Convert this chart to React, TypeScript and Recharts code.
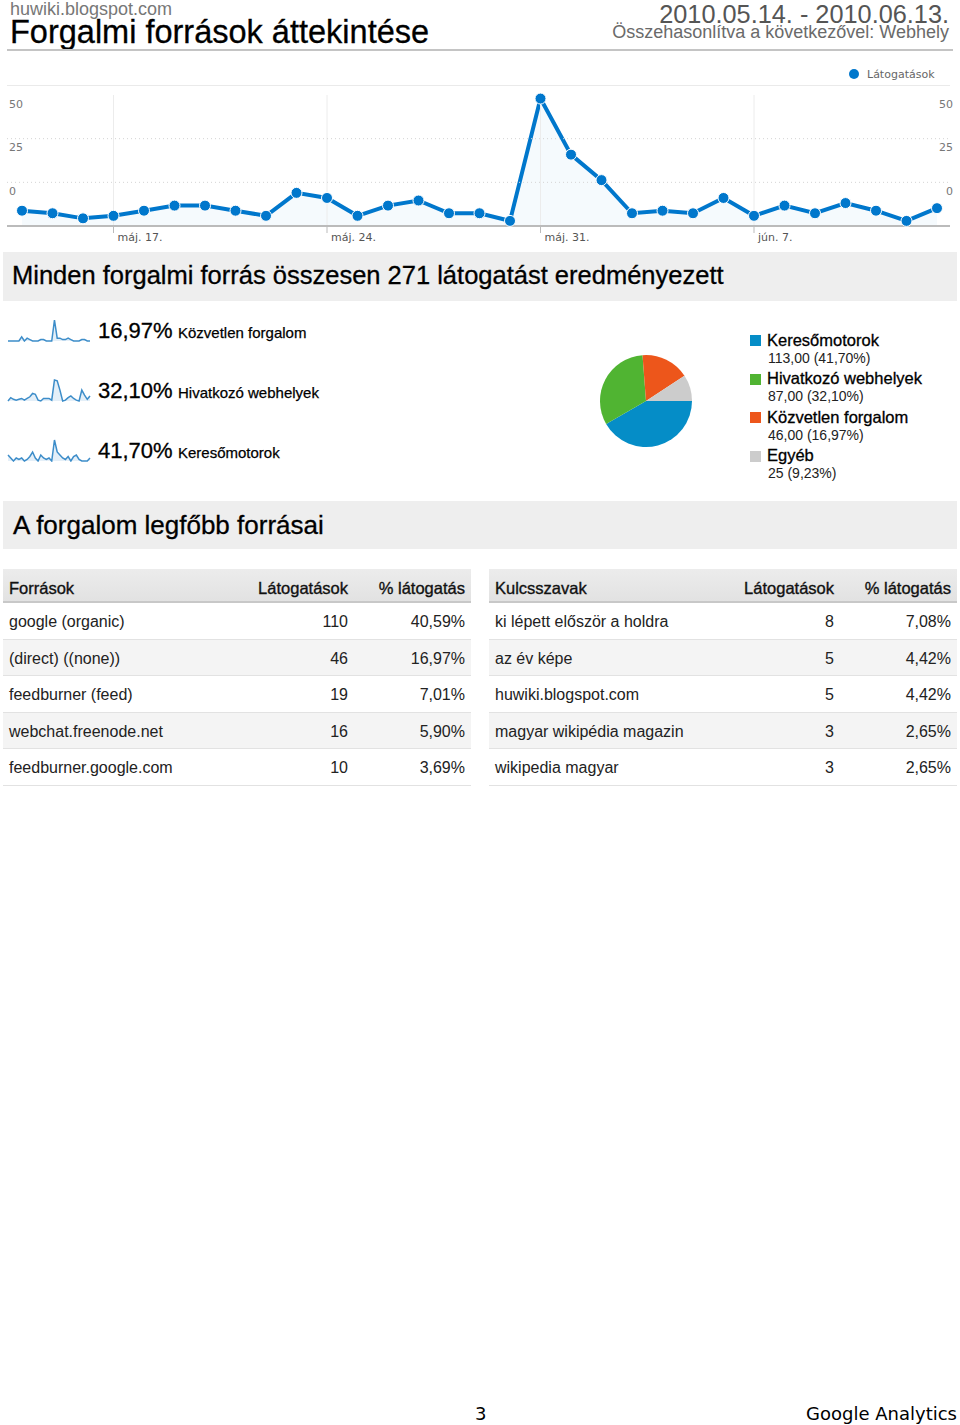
import { Area, AreaChart, Cell, Pie, PieChart, ReferenceLine, XAxis, YAxis } from "recharts";

const days = [
  "máj. 14.", "máj. 15.", "máj. 16.", "máj. 17.", "máj. 18.", "máj. 19.", "máj. 20.",
  "máj. 21.", "máj. 22.", "máj. 23.", "máj. 24.", "máj. 25.", "máj. 26.", "máj. 27.",
  "máj. 28.", "máj. 29.", "máj. 30.", "máj. 31.", "jún. 1.", "jún. 2.", "jún. 3.",
  "jún. 4.", "jún. 5.", "jún. 6.", "jún. 7.", "jún. 8.", "jún. 9.", "jún. 10.",
  "jún. 11.", "jún. 12.", "jún. 13.",
];
const visits = [6, 5, 3, 4, 6, 8, 8, 6, 4, 13, 11, 4, 8, 10, 5, 5, 2, 50, 28, 18, 5, 6, 5, 11, 4, 8, 5, 9, 6, 2, 7];
const dayTicks = ["máj. 17.", "máj. 24.", "máj. 31.", "jún. 7."];
// gridline positions of the axis and the labels printed under them
const yTicks = [17.13, 34.27, 51.4];
const yTickLabels = ["0", "25", "50"];

const directDaily = [1, 1, 1, 1, 1, 4, 1, 3, 2, 1, 1, 1, 2, 2, 1, 1, 1, 16, 3, 3, 2, 2, 3, 2, 1, 1, 1, 2, 2, 1, 1];
const referralDaily = [0, 4, 2, 1, 2, 3, 1, 3, 5, 9, 8, 1, 0, 3, 3, 3, 1, 25, 24, 13, 0, 1, 4, 6, 3, 1, 0, 13, 7, 2, 6];
const searchDaily = [5, 3, 1, 3, 2, 3, 1, 2, 4, 7, 3, 1, 5, 3, 2, 3, 1, 15, 7, 5, 3, 2, 4, 1, 4, 5, 2, 1, 1, 1, 3];
const sparkShares = ["16,97%", "32,10%", "41,70%"];
const sparkNames = ["Közvetlen forgalom", "Hivatkozó webhelyek", "Keresőmotorok"];

const sourceNames = ["Keresőmotorok", "Hivatkozó webhelyek", "Közvetlen forgalom", "Egyéb"];
const sourceVisits = [113, 87, 46, 25];
const sourceValueLabels = ["113,00 (41,70%)", "87,00 (32,10%)", "46,00 (16,97%)", "25 (9,23%)"];
const sourceColors = ["#058dc7", "#50b432", "#ed561b", "#cccccc"];

const topSources = ["google (organic)", "(direct) ((none))", "feedburner (feed)", "webchat.freenode.net", "feedburner.google.com"];
const topSourceVisits = [110, 46, 19, 16, 10];
const topSourcePct = ["40,59%", "16,97%", "7,01%", "5,90%", "3,69%"];
const keywords = ["ki lépett először a holdra", "az év képe", "huwiki.blogspot.com", "magyar wikipédia magazin", "wikipedia magyar"];
const keywordVisits = [8, 5, 5, 3, 3];
const keywordPct = ["7,08%", "4,42%", "4,42%", "2,65%", "2,65%"];

const HELV = "'Liberation Sans', Arial, sans-serif";
const DEJAVU = "'DejaVu Sans', sans-serif";
const BLUE = "#0077cc";

const lineData = days.map((day, i) => ({ day, visits: visits[i] }));
const pieData = sourceNames.map((name, i) => ({ name, value: sourceVisits[i] }));

// text box whose baseline lands on `baseline`
function Txt({ x, right, baseline, size, color = "#000", font = HELV, heavy, children }: any) {
  const lh = size * 0.8;
  const style: any = {
    position: "absolute",
    top: baseline - size * 0.75,
    fontSize: size,
    lineHeight: `${lh}px`,
    fontFamily: font,
    color,
    whiteSpace: "nowrap",
  };
  if (heavy) style.WebkitTextStroke = `${heavy}px ${color}`;
  if (right !== undefined) style.right = right;
  else style.left = x;
  return <div style={style}>{children}</div>;
}

function DayTick({ x, y, payload }: any) {
  return (
    <text x={x + 4} y={y} dy="0.75em" fontSize={11} fontFamily={DEJAVU} fill="#555" textAnchor="start">
      {payload.value}
    </text>
  );
}

// the same label is printed at both edges of the plot
function ValueTick({ y, index }: any) {
  return (
    <g fontSize={11} fontFamily={DEJAVU} fill="#777">
      <text x={9} y={y + 12.5} textAnchor="start">
        {yTickLabels[index]}
      </text>
      <text x={953} y={y + 12.5} textAnchor="end">
        {yTickLabels[index]}
      </text>
    </g>
  );
}

function Spark({ values, top }: { values: number[]; top: number }) {
  const data = values.map((v, i) => ({ i, v }));
  return (
    <div style={{ position: "absolute", left: 7, top }}>
      <AreaChart width={84} height={24} data={data} margin={{ top: 2, right: 1, bottom: 1, left: 1 }}>
        <XAxis dataKey="i" hide />
        <YAxis hide domain={["dataMin", "dataMax"]} />
        <Area
          type="linear"
          dataKey="v"
          stroke="#3d8dc9"
          strokeWidth={1.5}
          fill="#d8e8f5"
          fillOpacity={0.7}
          dot={false}
          isAnimationActive={false}
        />
      </AreaChart>
    </div>
  );
}

function Table({ left, headers, names, counts, pcts }: any) {
  const rowH = 36.6;
  return (
    <div style={{ position: "absolute", left, top: 569, width: 468, height: 216 }}>
      <div
        style={{
          position: "absolute",
          left: 0,
          top: 0,
          width: 468,
          height: 32,
          background: "linear-gradient(#ececec, #e2e2e2)",
          borderBottom: "2px solid #c8c8c8",
        }}
      />
      <Txt x={6} baseline={25} size={16.5} color="#111" heavy={0.35}>{headers[0]}</Txt>
      <Txt right={123} baseline={25} size={16.5} color="#111" heavy={0.35}>{headers[1]}</Txt>
      <Txt right={6} baseline={25} size={16.5} color="#111" heavy={0.35}>{headers[2]}</Txt>
      {names.map((n: string, i: number) => (
        <div key={n}>
          <div
            style={{
              position: "absolute",
              left: 0,
              top: 34 + i * rowH,
              width: 468,
              height: rowH - 1,
              background: i % 2 ? "#f4f4f4" : "#fff",
              borderBottom: "1px solid #e2e2e2",
            }}
          />
          <Txt x={6} baseline={59 + i * rowH} size={16} color="#222">{n}</Txt>
          <Txt right={123} baseline={59 + i * rowH} size={16} color="#222">{counts[i]}</Txt>
          <Txt right={6} baseline={59 + i * rowH} size={16} color="#222">{pcts[i]}</Txt>
        </div>
      ))}
    </div>
  );
}

export default function App() {
  return (
    <div style={{ position: "absolute", left: 0, top: 0, width: 960, height: 1425, background: "#fff", fontFamily: HELV }}>
      <Txt x={10} baseline={15} size={18} color="#777">huwiki.blogspot.com</Txt>
      <Txt x={10} baseline={43} size={32.5} heavy={0.3}>Forgalmi források áttekintése</Txt>
      <Txt right={11} baseline={23} size={25.3} color="#555">2010.05.14. - 2010.06.13.</Txt>
      <Txt right={11} baseline={38} size={18} color="#6a6a6a">Összehasonlítva a következővel: Webhely</Txt>
      <div style={{ position: "absolute", left: 7, top: 49, width: 946, height: 2, background: "#c4c4c4" }} />

      {/* legend + top border of the visits chart */}
      <div style={{ position: "absolute", left: 849, top: 69, width: 10, height: 10, borderRadius: 5, background: BLUE }} />
      <Txt x={867} baseline={79} size={11} color="#666" font={DEJAVU}>Látogatások</Txt>
      <div style={{ position: "absolute", left: 7, top: 85, width: 943, height: 1, background: "#eaeaea" }} />

      <div style={{ position: "absolute", left: 0, top: 60 }}>
        <AreaChart width={960} height={190} data={lineData} margin={{ top: 35, right: 10, bottom: 0, left: 7 }}>
          <XAxis
            dataKey="day"
            height={24}
            padding={{ left: 15, right: 13 }}
            ticks={dayTicks}
            interval={0}
            tick={<DayTick />}
            tickSize={7}
            tickMargin={0}
            tickLine={{ stroke: "#bbb" }}
            axisLine={{ stroke: "#bbb", strokeWidth: 2 }}
          />
          <YAxis
            yAxisId="l"
            mirror
            domain={[0, 51.4]}
            ticks={yTicks}
            axisLine={false}
            tickLine={false}
            tick={<ValueTick />}
          />
          {dayTicks.map((d) => (
            <ReferenceLine key={d} yAxisId="l" x={d} stroke="#ececec" />
          ))}
          {yTicks.slice(0, 2).map((v) => (
            <ReferenceLine key={v} yAxisId="l" y={v} stroke="#d4d4d4" strokeDasharray="1 3" />
          ))}
          <Area
            yAxisId="l"
            type="linear"
            dataKey="visits"
            stroke={BLUE}
            strokeWidth={4}
            fill={BLUE}
            fillOpacity={0.04}
            dot={{ r: 5.5, fill: BLUE, stroke: "#fff", strokeWidth: 1, fillOpacity: 1 }}
            isAnimationActive={false}
          />
        </AreaChart>
      </div>

      <div style={{ position: "absolute", left: 3, top: 252, width: 954, height: 49, background: "#eeeeee" }} />
      <Txt x={12} baseline={284} size={25.5} heavy={0.3}>Minden forgalmi forrás összesen 271 látogatást eredményezett</Txt>

      <Spark values={directDaily} top={318} />
      <Spark values={referralDaily} top={378} />
      <Spark values={searchDaily} top={438} />
      {sparkShares.map((s, i) => (
        <div key={s}>
          <Txt x={98} baseline={338 + i * 60} size={22} heavy={0.3}>{s}</Txt>
          <Txt x={178} baseline={338 + i * 60} size={15} heavy={0.25}>{sparkNames[i]}</Txt>
        </div>
      ))}

      <div style={{ position: "absolute", left: 596, top: 351 }}>
        <PieChart width={100} height={100} margin={{ top: 0, right: 0, bottom: 0, left: 0 }}>
          <Pie
            data={pieData}
            dataKey="value"
            cx={50}
            cy={50}
            outerRadius={46}
            startAngle={0}
            endAngle={-360}
            stroke="none"
            isAnimationActive={false}
          >
            {pieData.map((d, i) => (
              <Cell key={d.name} fill={sourceColors[i]} />
            ))}
          </Pie>
        </PieChart>
      </div>
      {sourceNames.map((n, i) => (
        <div key={n}>
          <div style={{ position: "absolute", left: 750, top: 335 + i * 38.5, width: 11, height: 11, background: sourceColors[i] }} />
          <Txt x={767} baseline={346 + i * 38.5} size={16.5} heavy={0.3}>{n}</Txt>
          <Txt x={768} baseline={363 + i * 38.5} size={14} color="#222">{sourceValueLabels[i]}</Txt>
        </div>
      ))}

      <div style={{ position: "absolute", left: 3, top: 501, width: 954, height: 48, background: "#eeeeee" }} />
      <Txt x={13} baseline={534} size={26} heavy={0.3}>A forgalom legfőbb forrásai</Txt>

      <Table
        left={3}
        headers={["Források", "Látogatások", "% látogatás"]}
        names={topSources}
        counts={topSourceVisits}
        pcts={topSourcePct}
      />
      <Table
        left={489}
        headers={["Kulcsszavak", "Látogatások", "% látogatás"]}
        names={keywords}
        counts={keywordVisits}
        pcts={keywordPct}
      />

      <Txt x={475} baseline={1420} size={18} font={DEJAVU}>3</Txt>
      <Txt right={3} baseline={1420} size={18} font={DEJAVU}>Google Analytics</Txt>
    </div>
  );
}
